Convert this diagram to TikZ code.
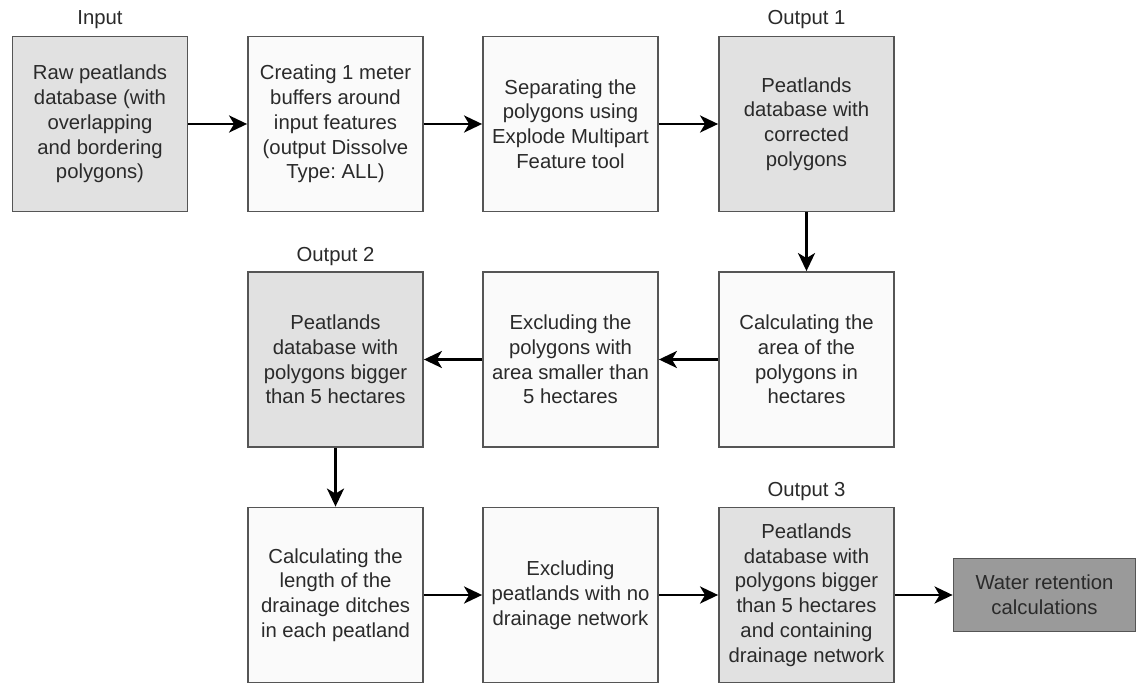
\documentclass[tikz,border=0pt]{standalone}
\usepackage{fontspec}
\setmainfont{Liberation Sans}
\usetikzlibrary{arrows.meta}
\frenchspacing
\definecolor{txt}{HTML}{2A2A2A}
\definecolor{edge}{HTML}{555555}
\definecolor{lightbox}{HTML}{FAFAFA}
\definecolor{outbox}{HTML}{E1E1E1}
\definecolor{darkbox}{HTML}{9A9A9A}
\tikzset{
  base/.style={draw=edge, line width=1.8pt, minimum width=175pt, minimum height=175pt,
    align=center, inner sep=0pt, text=txt,
    font=\fontsize{20.3pt}{24.8pt}\selectfont},
  procbox/.style={base, fill=lightbox},
  outputbox/.style={base, fill=outbox},
  finalbox/.style={base, fill=darkbox, minimum width=182pt, minimum height=73pt},
  lbl/.style={text=txt, font=\fontsize{20.3pt}{24pt}\selectfont, inner sep=0pt},
  flow/.style={-{Stealth[length=18pt,width=17pt,inset=5pt]}, line width=2.8pt, black}
}
\begin{document}
\begin{tikzpicture}[x=1pt,y=-1pt]
\useasboundingbox (0,0) rectangle (1137,684);
\fill[white] (0,0) rectangle (1137,684);
% row 1
\node[outputbox] (raw) at (100,124) {Raw peatlands\\database (with\\overlapping\\and bordering\\polygons)};
\node[procbox] (buf) at (335.5,124) {Creating 1 meter\\buffers around\\input features\\(output Dissolve\\Type: ALL)};
\node[procbox] (sep) at (570.5,124) {Separating the\\polygons using\\Explode Multipart\\Feature tool};
\node[outputbox] (out1) at (806.5,124) {Peatlands\\database with\\corrected\\polygons};
% row 2
\node[procbox] (area) at (806.5,359.5) {Calculating the\\area of the\\polygons in\\hectares};
\node[procbox] (excl) at (570.5,359.5) {Excluding the\\polygons with\\area smaller than\\5 hectares};
\node[outputbox] (out2) at (335.5,359.5) {Peatlands\\database with\\polygons bigger\\than 5 hectares};
% row 3
\node[procbox] (len) at (335.5,595) {Calculating the\\length of the\\drainage ditches\\in each peatland};
\node[procbox] (nodr) at (570.5,595) {Excluding\\peatlands with no\\drainage network};
\node[outputbox] (out3) at (806.5,595) {Peatlands\\database with\\polygons bigger\\than 5 hectares\\and containing\\drainage network};
\node[finalbox] (water) at (1044.5,595) {Water retention\\calculations};
% labels
\node[lbl] (linput) at (100,20) {Input};
\node[lbl] (lout1) at (806.5,20) {Output 1};
\node[lbl] (lout2) at (335.5,257) {Output 2};
\node[lbl] (lout3) at (806.5,492) {Output 3};
% connectors
\draw[flow] (raw) -- (buf);
\draw[flow] (buf) -- (sep);
\draw[flow] (sep) -- (out1);
\draw[flow] (out1) -- (area);
\draw[flow] (area) -- (excl);
\draw[flow] (excl) -- (out2);
\draw[flow] (out2) -- (len);
\draw[flow] (len) -- (nodr);
\draw[flow] (nodr) -- (out3);
\draw[flow] (out3) -- (water);
\end{tikzpicture}
\end{document}
